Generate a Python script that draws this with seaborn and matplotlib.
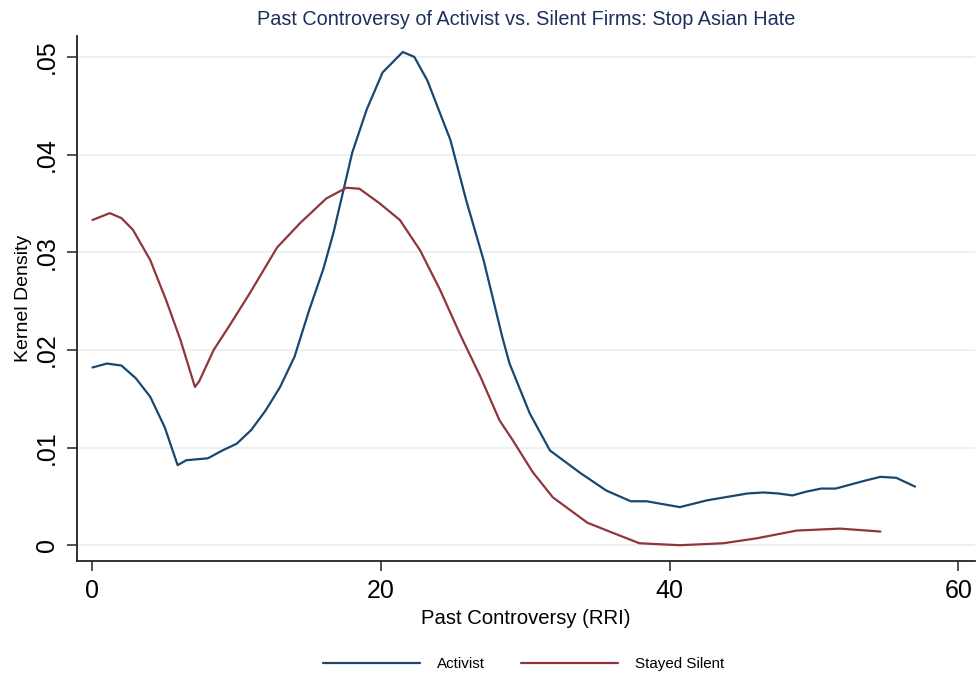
import matplotlib
matplotlib.use("Agg")
import matplotlib.pyplot as plt
import seaborn as sns
import pandas as pd

activist_x = [0, 1, 2, 3, 4, 5, 5.9, 6.5, 8, 9, 10, 11, 12, 13, 14, 15, 16, 16.7, 18, 19, 20.1,
              21.5, 22.3, 23.2, 24.8, 25.9, 27.1, 28.4, 28.9, 30.3, 31.7, 33.8, 35.6, 37.3, 38.4,
              40.7, 42.6, 45.4, 46.5, 47.5, 48.5, 49.5, 50.5, 51.5, 52.5, 53.5, 54.6, 55.7, 57.0]
activist_y = [.0182, .0186, .0184, .0171, .0152, .0121, .0082, .0087, .0089, .0097, .0104, .0118,
              .0138, .0162, .0193, .0240, .0283, .0320, .0402, .0446, .0484, .0505, .0500, .0476,
              .0415, .0353, .0292, .0213, .0186, .0135, .0097, .0074, .0056, .0045, .0045, .0039,
              .0046, .0053, .0054, .0053, .0051, .0055, .0058, .0058, .0062, .0066, .0070, .0069,
              .0060]

silent_x = [0, 1.2, 2, 2.8, 4, 5.1, 6.1, 7.1, 7.4, 8.4, 9.5, 10.9, 12.8, 14.4, 16.2, 17.6, 18.5,
            19.9, 21.3, 22.7, 24.1, 25.5, 26.9, 28.2, 29.1, 30.5, 31.9, 34.3, 36, 37.9, 40.7,
            43.7, 46, 48.8, 51.8, 54.6]
silent_y = [.0333, .0340, .0335, .0323, .0292, .0251, .0210, .0162, .0168, .0200, .0225, .0258,
            .0305, .0330, .0355, .0366, .0365, .0350, .0333, .0302, .0261, .0215, .0172, .0128,
            .0108, .0075, .0049, .0023, .0013, .0002, .0000, .0002, .0007, .0015, .0017, .0014]

groups = ["Activist", "Stayed Silent"]
x_ticks = [0, 20, 40, 60]
y_ticks = [0, .01, .02, .03, .04, .05]
y_ticklabels = ["0", ".01", ".02", ".03", ".04", ".05"]

df = pd.concat([
    pd.DataFrame({"x": activist_x, "y": activist_y, "group": groups[0]}),
    pd.DataFrame({"x": silent_x, "y": silent_y, "group": groups[1]}),
])

sns.set_theme(style="white")
plt.rcParams["font.family"] = ["Liberation Sans", "DejaVu Sans"]
plt.rcParams["text.color"] = "black"
plt.rcParams["axes.labelcolor"] = "black"
plt.rcParams["xtick.color"] = "black"
plt.rcParams["ytick.color"] = "black"

fig = plt.figure(figsize=(9.79, 6.77), dpi=100)
ax = fig.add_axes([0.0787, 0.171, 0.996 - 0.0787, 0.947 - 0.171])

palette = {"Activist": "#1a476f", "Stayed Silent": "#90353b"}
sns.lineplot(data=df, x="x", y="y", hue="group", palette=palette, sort=False,
             estimator=None, linewidth=1.6, ax=ax, legend=True)

ax.set_xlim(-1.07, 61.16)
ax.set_ylim(-0.00164, 0.05215)
ax.set_xticks(x_ticks)
ax.set_xticklabels([str(t) for t in x_ticks], fontsize=18)
ax.set_yticks(y_ticks)
ax.set_yticklabels(y_ticklabels, fontsize=18, rotation=90, va="center")
ax.grid(axis="y", color="#e6f0f2", linewidth=1.2)
ax.grid(axis="x", visible=False)
ax.set_axisbelow(True)

for s in ["top", "right"]:
    ax.spines[s].set_visible(False)
for s in ["left", "bottom"]:
    ax.spines[s].set_color("#222222")
    ax.spines[s].set_linewidth(1.3)
ax.tick_params(axis="both", direction="out", length=7, width=1.1, color="#222222", pad=6,
               labelcolor="black")
ax.tick_params(axis="both", bottom=True, left=True)

ax.set_xlabel("Past Controversy (RRI)", fontsize=14.6, labelpad=4, color="black")
ax.set_ylabel("Kernel Density", fontsize=14, labelpad=2, color="black")
ax.set_title("Past Controversy of Activist vs. Silent Firms: Stop Asian Hate",
             fontsize=14.3, color="#1e2f5e", pad=8)

handles, labels = ax.get_legend_handles_labels()
ax.get_legend().remove()
fig.legend(handles, labels, loc="center", bbox_to_anchor=(0.535, 0.019), ncol=2,
           frameon=False, fontsize=10.9, handlelength=6.4, handletextpad=1.1,
           columnspacing=2.4)

fig.savefig("out.png", dpi=100)
